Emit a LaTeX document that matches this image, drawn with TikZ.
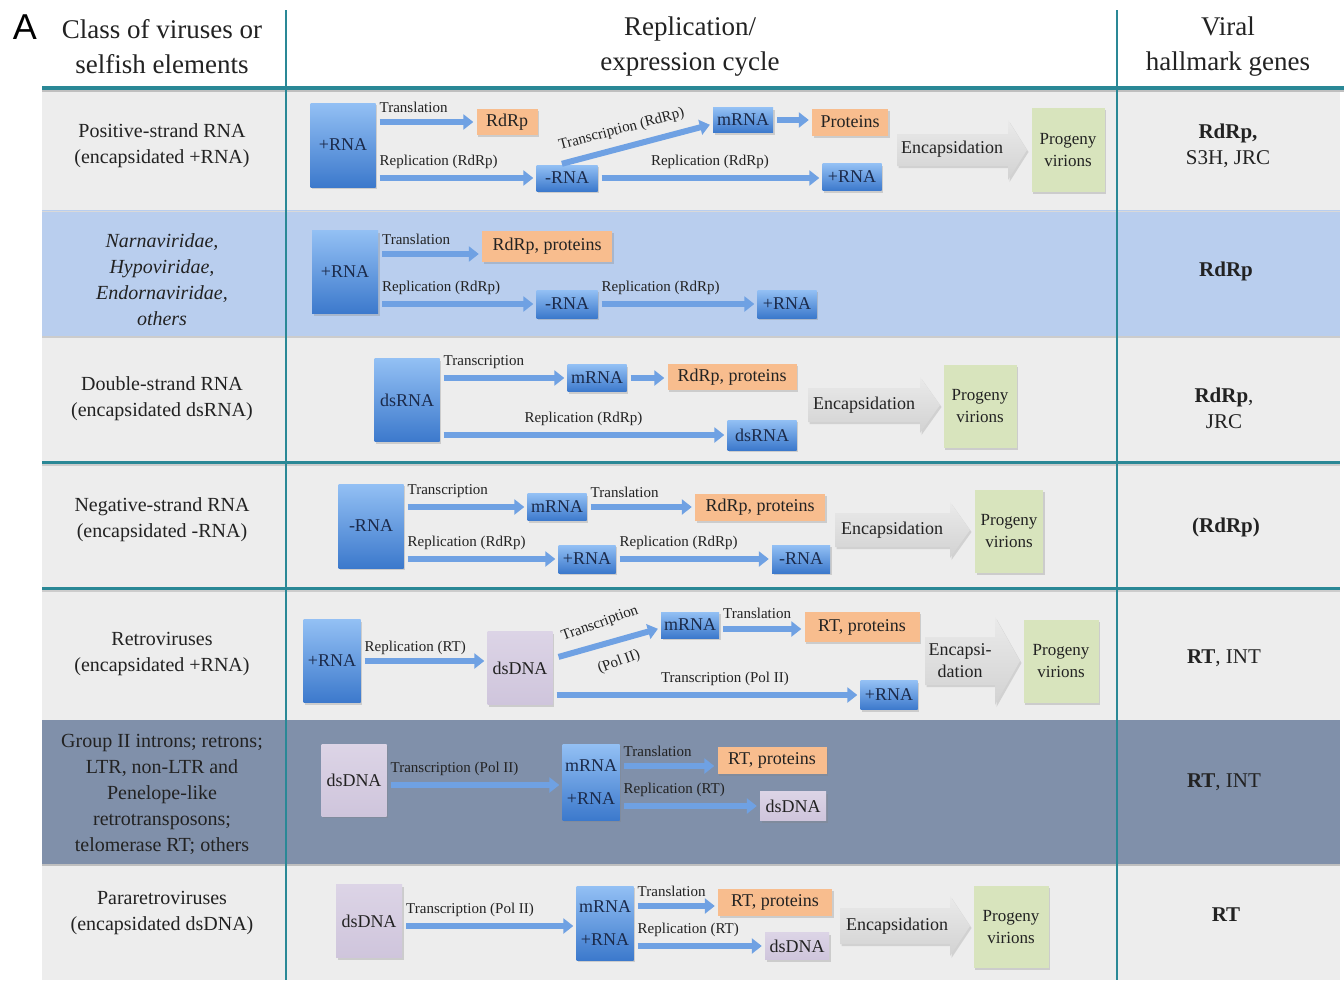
\documentclass[tikz,border=0pt]{standalone}
\usepackage{fontspec}
\setmainfont{Liberation Serif}
\newfontfamily\sansfam{Liberation Sans}
\usetikzlibrary{arrows.meta,shadows,calc,positioning}
\definecolor{tealc}{HTML}{2A8896}
\definecolor{rowgray}{HTML}{EDEDED}
\definecolor{rowblue}{HTML}{B9CEEE}
\definecolor{rowslate}{HTML}{8090AA}
\definecolor{boxTop}{HTML}{93C0F4}
\definecolor{boxBot}{HTML}{3C79CC}
\definecolor{boxText}{HTML}{1B2A4A}
\definecolor{orangeC}{HTML}{F8BD8E}
\definecolor{greenC}{HTML}{D8E4BD}
\definecolor{purpTop}{HTML}{DCD4E6}
\definecolor{purpBot}{HTML}{CFC5DC}
\definecolor{arrC}{HTML}{6FA1E3}
\definecolor{encTop}{HTML}{EAEAEA}
\definecolor{encBot}{HTML}{D2D2D2}
\definecolor{txt}{HTML}{222222}
\newcommand\fntHead{\fontsize{27}{35}\selectfont}
\newcommand\fntLeft{\fontsize{20}{26}\selectfont}
\newcommand\fntRight{\fontsize{21}{26}\selectfont}
\newcommand\fntLab{\fontsize{15}{17}\selectfont}
\newcommand\fntBox{\fontsize{18}{20}\selectfont}
\newcommand\fntProg{\fontsize{17}{22}\selectfont}
\newcommand\fntEnc{\fontsize{18}{22}\selectfont}
\newcommand\encarrow[6]{%
  \shade[top color=encTop, bottom color=encBot,
    drop shadow={shadow xshift=1.5pt,shadow yshift=-2pt,opacity=.25}]
    (#1,{#4-#5}) -- (#2,{#4-#5}) -- (#2,{#4-#6}) -- (#3,#4) --
    (#2,{#4+#6}) -- (#2,{#4+#5}) -- (#1,{#4+#5}) -- cycle;}
\tikzset{
 shad/.style={drop shadow={shadow xshift=1.5pt,shadow yshift=-2pt,opacity=.3}},
 sz/.style 2 args={minimum width=#1pt, minimum height=#2pt},
 bbox/.style={shad, top color=boxTop, bottom color=boxBot, text=boxText, font=\fntBox, inner sep=0pt, align=center},
 obox/.style={shad, fill=orangeC, text=txt, font=\fntBox, inner sep=0pt},
 pbox/.style={shad, top color=purpTop, bottom color=purpBot, text=txt, font=\fntBox, inner sep=0pt},
 gbox/.style={shad, fill=greenC, text=txt, font=\fntProg, align=center, inner sep=0pt},
 barrow/.style={draw=arrC, line width=6pt, -{Triangle[length=10pt,width=15pt]}, shorten <=4pt, shorten >=3pt},
 lab/.style={font=\fntLab, text=txt, inner sep=1pt},
 enc/.style={font=\fntEnc, text=txt, align=center},
 lcol/.style={font=\fntLeft, text=txt, align=center},
 rcol/.style={font=\fntRight, text=txt, align=center},
 hdr/.style={font=\fntHead, text=txt, align=center},
}
\begin{document}
\begin{tikzpicture}[x=1pt,y=-1pt]
\useasboundingbox (0,0) rectangle (1344,980);
\fill[white] (0,0) rectangle (1344,980);
% row backgrounds
\fill[rowgray] (42,90) rectangle (1340,210);
\fill[rowblue] (42,210) rectangle (1340,336);
\fill[rowgray] (42,336) rectangle (1340,462);
\fill[rowgray] (42,462) rectangle (1340,588);
\fill[rowgray] (42,588) rectangle (1340,720);
\fill[rowslate] (42,720) rectangle (1340,864);
\fill[rowgray] (42,864) rectangle (1340,980);
\draw[black!20, line width=1.5pt] (42,337) -- (1340,337);
\draw[black!25, line width=1.5pt] (42,865) -- (1340,865);
\draw[black!15, line width=1pt] (42,211) -- (1340,211);
\draw[black!25, line width=2pt] (42,91) -- (1344,91);
\draw[tealc, line width=4pt] (42,88) -- (1344,88);
\draw[black!20, line width=1.5pt] (42,465) -- (1340,465);
\draw[tealc, line width=3pt] (42,462) -- (1340,462);
\draw[black!20, line width=1.5pt] (42,591) -- (1340,591);
\draw[tealc, line width=3pt] (42,588) -- (1340,588);
\draw[tealc, line width=2pt] (286,10) -- (286,980);
\draw[tealc, line width=2pt] (1117,10) -- (1117,980);
% header
\node[font=\sansfam\fontsize{36}{36}\selectfont] (lblA) at (25,27) {A};
\node[hdr] (h1) at (162,47) {Class of viruses or\\selfish elements};
\node[hdr] (h2) at (690,47) {Replication/\\expression cycle};
\node[hdr] (h3) at (1228,47) {Viral\\hallmark genes};
% left column
\node[lcol] (c1) at (162,146) {Positive-strand RNA\\(encapsidated +RNA)};
\node[lcol, font=\fntLeft\itshape] (c2) at (162,280) {Narnaviridae,\\Hypoviridae,\\Endornaviridae,\\others};
\node[lcol] (c3) at (162,399) {Double-strand RNA\\(encapsidated dsRNA)};
\node[lcol] (c4) at (162,520) {Negative-strand RNA\\(encapsidated -RNA)};
\node[lcol] (c5) at (162,654) {Retroviruses\\(encapsidated +RNA)};
\node[lcol] (c6) at (162,794) {Group II introns; retrons;\\LTR, non-LTR and\\Penelope-like\\retrotransposons;\\telomerase RT; others};
\node[lcol] (c7) at (162,913) {Pararetroviruses\\(encapsidated dsDNA)};
% right column
\node[rcol] (g1) at (1228,146) {\textbf{RdRp,}\\S3H, JRC};
\node[rcol] (g2) at (1226,271) {\textbf{RdRp}};
\node[rcol] (g3) at (1224,408) {\textbf{RdRp},\\JRC};
\node[rcol] (g4) at (1226,527) {\textbf{(RdRp)}};
\node[rcol] (g5) at (1224,658) {\textbf{RT}, INT};
\node[rcol] (g6) at (1224,782) {\textbf{RT}, INT};
\node[rcol] (g7) at (1226,915) {\textbf{RT}};
% ---------- row 1
\node[bbox, sz={65}{84}] (r1p) at (343,145) {+RNA};
\node[obox, sz={61}{26}] (r1rdrp) at (507,122) {RdRp};
\node[bbox, sz={61}{26}] (r1n) at (567,178) {-RNA};
\node[bbox, sz={60}{25}] (r1m) at (743,120) {mRNA};
\node[obox, sz={76}{27}] (r1prot) at (850,122) {Proteins};
\node[bbox, sz={59}{27}] (r1pp) at (852,177) {+RNA};
\encarrow{897}{1008}{1027}{150}{16}{30}
\node[enc] (r1enc) at (952,149) {Encapsidation};
\node[gbox, sz={73}{84}] (r1prog) at (1068,150) {Progeny\\virions};
\draw[barrow] (r1p.east |- r1rdrp.west) -- (r1rdrp.west) node[lab, pos=0, above right=5pt and 0pt] {Translation};
\draw[barrow] (r1p.east |- r1n.west) -- (r1n.west) node[lab, pos=0, above right=5pt and 0pt] {Replication (RdRp)};
\draw[barrow] ($(r1n.north)+(-9,0)$) -- ($(r1m.west)+(0,4)$) node[lab, pos=0.44, above=7pt, sloped] {Transcription (RdRp)};
\draw[barrow] (r1m.east) -- (r1m.east -| r1prot.west);
\draw[barrow] (r1n.east) -- (r1n.east -| r1pp.west) node[lab, midway, above=5pt] {Replication (RdRp)};
% ---------- row 2
\node[bbox, sz={66}{83}] (r2p) at (345,272) {+RNA};
\node[obox, sz={130}{31}] (r2rp) at (547,246) {RdRp, proteins};
\node[bbox, sz={61}{28}] (r2n) at (567,304) {-RNA};
\node[bbox, sz={59}{28}] (r2pp) at (787,304) {+RNA};
\draw[barrow] ($(r2p.east |- r2rp.west)+(0,8)$) -- ($(r2rp.west)+(0,8)$) node[lab, pos=0, above right=5pt and 0pt] {Translation};
\draw[barrow] (r2p.east |- r2n.west) -- (r2n.west) node[lab, pos=0, above right=5pt and 0pt] {Replication (RdRp)};
\draw[barrow] (r2n.east) -- (r2pp.west) node[lab, pos=0, above right=5pt and 0pt] {Replication (RdRp)};
% ---------- row 3
\node[bbox, sz={65}{83}] (r3d) at (407,400) {dsRNA};
\node[bbox, sz={59}{27}] (r3m) at (597,378) {mRNA};
\node[obox, sz={129}{26}] (r3rp) at (732,377) {RdRp, proteins};
\node[bbox, sz={69}{30}] (r3dd) at (762,435) {dsRNA};
\encarrow{808}{920}{940}{405}{17}{28}
\node[enc] (r3enc) at (864,405) {Encapsidation};
\node[gbox, sz={73}{83}] (r3prog) at (980,406) {Progeny\\virions};
\draw[barrow] (r3d.east |- r3m.west) -- (r3m.west) node[lab, pos=0, above right=5pt and 0pt] {Transcription};
\draw[barrow] (r3m.east) -- (r3m.east -| r3rp.west);
\draw[barrow] (r3d.east |- r3dd.west) -- (r3dd.west) node[lab, midway, above=5pt] {Replication (RdRp)};
% ---------- row 4
\node[bbox, sz={65}{84}] (r4n) at (371,526) {-RNA};
\node[bbox, sz={59}{27}] (r4m) at (557,507) {mRNA};
\node[obox, sz={130}{27}] (r4rp) at (760,507) {RdRp, proteins};
\node[bbox, sz={57}{28}] (r4pp) at (587,559) {+RNA};
\node[bbox, sz={58}{28}] (r4nn) at (801,559) {-RNA};
\encarrow{835}{950}{970}{530}{17}{28}
\node[enc] (r4enc) at (892,530) {Encapsidation};
\node[gbox, sz={68}{83}] (r4prog) at (1009,531) {Progeny\\virions};
\draw[barrow] (r4n.east |- r4m.west) -- (r4m.west) node[lab, pos=0, above right=5pt and 0pt] {Transcription};
\draw[barrow] (r4m.east) -- (r4m.east -| r4rp.west) node[lab, pos=0, above right=5pt and 0pt] {Translation};
\draw[barrow] (r4n.east |- r4pp.west) -- (r4pp.west) node[lab, pos=0, above right=5pt and 0pt] {Replication (RdRp)};
\draw[barrow] (r4pp.east) -- (r4pp.east -| r4nn.west) node[lab, pos=0, above right=5pt and 0pt] {Replication (RdRp)};
% ---------- row 5
\node[bbox, sz={57}{83}] (r5p) at (332,661) {+RNA};
\node[pbox, sz={65}{73}] (r5d) at (520,668) {dsDNA};
\node[bbox, sz={58}{26}] (r5m) at (690,625) {mRNA};
\node[obox, sz={115}{30}] (r5rt) at (862,627) {RT, proteins};
\node[bbox, sz={57}{29}] (r5pp) at (889,695) {+RNA};
\encarrow{925}{995}{1020}{661}{24}{44}
\node[enc] (r5enc) at (960,661) {Encapsi-\\dation};
\node[gbox, sz={75}{83}] (r5prog) at (1061,661) {Progeny\\virions};
\draw[barrow] (r5p.east) -- (r5p.east -| r5d.west) node[lab, pos=0, above right=2pt and 0pt] {Replication (RT)};
\draw[barrow] ($(r5d.east)+(2,-10)$) -- ($(r5m.west)+(0,3)$);
\node[lab, rotate=20] (r5tl) at (600,624) {Transcription};
\node[lab, rotate=20] (r5pl) at (619,662) {(Pol II)};
\draw[barrow] ($(r5m.east)+(0,4)$) -- ($(r5m.east -| r5rt.west)+(0,4)$) node[lab, pos=0, above right=6pt and 0pt] {Translation};
\draw[barrow] (r5d.east |- r5pp.west) -- (r5pp.west) node[lab, pos=0.56, above=5pt] {Transcription (Pol II)};
% ---------- row 6
\node[bbox, sz={57}{76}, font=\fontsize{18}{33}\selectfont] (r6mp) at (591,782) {mRNA\\+RNA};
\node[pbox, sz={65}{72}] (r6d) at (354,780) {dsDNA};
\node[obox, sz={109}{27}] (r6rt) at (772,760) {RT, proteins};
\node[pbox, sz={66}{29}] (r6dd) at (793,806) {dsDNA};
\draw[barrow] ($(r6d.east)+(0,5)$) -- ($(r6d.east -| r6mp.west)+(0,5)$) node[lab, pos=0, above right=5pt and 0pt] {Transcription (Pol II)};
\draw[barrow] ($(r6mp.east |- r6rt.west)+(0,6)$) -- ($(r6rt.west)+(0,6)$) node[lab, pos=0, above right=5pt and 0pt] {Translation};
\draw[barrow] (r6mp.east |- r6dd.west) -- (r6dd.west) node[lab, pos=0, above right=5pt and 0pt] {Replication (RT)};
% ---------- row 7
\node[pbox, sz={66}{73}] (r7d) at (369,921) {dsDNA};
\node[bbox, sz={57}{74}, font=\fontsize{18}{33}\selectfont] (r7mp) at (605,923) {mRNA\\+RNA};
\node[obox, sz={114}{27}] (r7rt) at (775,902) {RT, proteins};
\node[pbox, sz={64}{27}] (r7dd) at (797,946) {dsDNA};
\encarrow{840}{950}{970}{926}{18}{30}
\node[enc] (r7enc) at (897,926) {Encapsidation};
\node[gbox, sz={75}{82}] (r7prog) at (1011,927) {Progeny\\virions};
\draw[barrow] ($(r7d.east)+(0,5)$) -- ($(r7d.east -| r7mp.west)+(0,5)$) node[lab, pos=0, above right=5pt and 0pt] {Transcription (Pol II)};
\draw[barrow] ($(r7mp.east |- r7rt.west)+(0,4)$) -- ($(r7rt.west)+(0,4)$) node[lab, pos=0, above right=5pt and 0pt] {Translation};
\draw[barrow] (r7mp.east |- r7dd.west) -- (r7dd.west) node[lab, pos=0, above right=5pt and 0pt] {Replication (RT)};
\end{tikzpicture}
\end{document}
